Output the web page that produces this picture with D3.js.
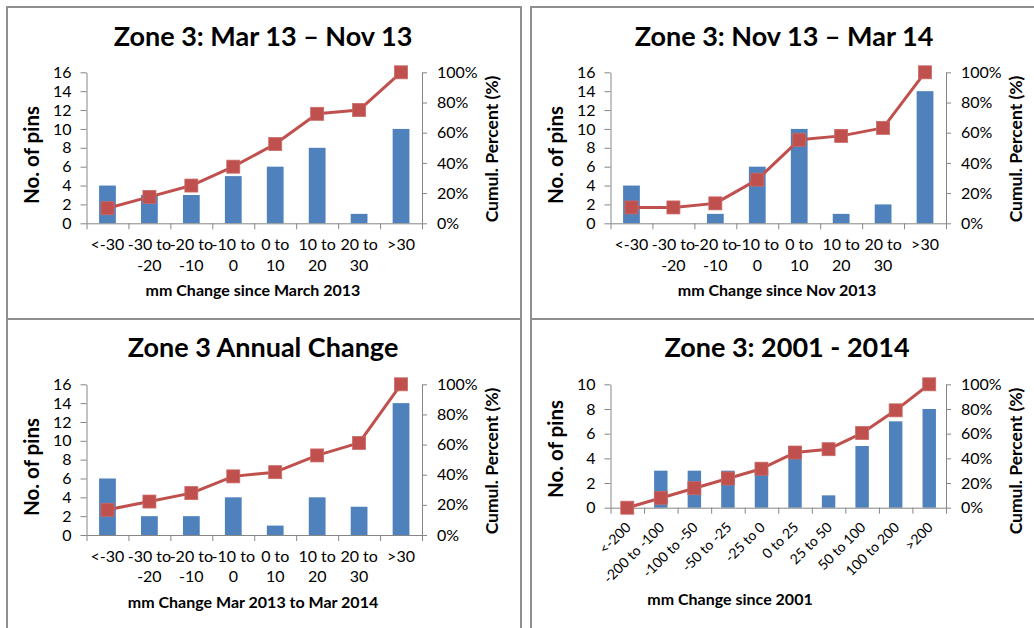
<!DOCTYPE html>
<html>
<head>
<meta charset="utf-8">
<script src="https://cdn.jsdelivr.net/npm/d3@7"></script>
<style>
  body { margin: 0; background: #fff; }
  svg { display: block; }
  text { font-family: Lato, "Open Sans", sans-serif; fill: #000; }
</style>
</head>
<body>
<svg id="chart" width="1034" height="628"></svg>
<script>
// ---- Category labels ----
const rangeCategories = ["<-30", "-30 to -20", "-20 to -10", "-10 to 0", "0 to 10", "10 to 20", "20 to 30", ">30"];
const longTermCategories = ["<-200", "-200 to -100", "-100 to -50", "-50 to -25", "-25 to 0", "0 to 25", "25 to 50", "50 to 100", "100 to 200", ">200"];

// ---- Pin counts (bars) and cumulative percent (line) ----
const pinsMar13Nov13 = [4, 3, 3, 5, 6, 8, 1, 10];
const cumulMar13Nov13 = [10, 17.5, 25, 37.5, 52.5, 72.5, 75, 100];

const pinsNov13Mar14 = [4, 0, 1, 6, 10, 1, 2, 14];
const cumulNov13Mar14 = [10.5, 10.5, 13.2, 28.9, 55.3, 57.9, 63.2, 100];

const pinsAnnual = [6, 2, 2, 4, 1, 4, 3, 14];
const cumulAnnual = [16.7, 22.2, 27.8, 38.9, 41.7, 52.8, 61.1, 100];

const pins2001to2014 = [0, 3, 3, 3, 3, 5, 1, 5, 7, 8];
const cumul2001to2014 = [0, 7.9, 15.8, 23.7, 31.6, 44.7, 47.4, 60.5, 78.9, 100];

// ---- Axis ticks ----
const countTicks16 = [0, 2, 4, 6, 8, 10, 12, 14, 16];
const countTicks10 = [0, 2, 4, 6, 8, 10];
const percentTicks = [0, 20, 40, 60, 80, 100];

// ---- Titles ----
const chartTitles = ["Zone 3: Mar 13 \u2013 Nov 13", "Zone 3: Nov 13 \u2013 Mar 14", "Zone 3 Annual Change", "Zone 3: 2001 - 2014"];
const xAxisTitles = ["mm Change since March 2013", "mm Change since Nov 2013", "mm Change Mar 2013 to Mar 2014", "mm Change since 2001"];
const yAxisTitle = "No. of pins";
const y2AxisTitle = "Cumul. Percent (%)";

const BAR = "#4F81BD", LINE = "#C0504D", AXIS = "#868686", FRAME = "#8f8f8f";

const svg = d3.select("#chart");

function drawPanel(opt) {
  const g = svg.append("g").attr("transform", `translate(${opt.x},${opt.y})`);

  // panel frame
  g.append("rect")
    .attr("x", 0).attr("y", 0).attr("width", opt.w).attr("height", opt.h)
    .attr("fill", "#fff").attr("stroke", FRAME).attr("stroke-width", 2);

  const left = opt.left, right = opt.right, top = opt.top, bottom = opt.bottom;
  const n = opt.categories.length;

  const x = d3.scaleBand().domain(d3.range(n)).range([left, right]).paddingInner(0).paddingOuter(0);
  const xEdge = d3.scaleLinear().domain([0, n]).range([left, right]);
  const yMax = d3.max(opt.countTicks);
  const y = d3.scaleLinear().domain([0, yMax]).range([bottom, top]);
  const y2 = d3.scaleLinear().domain([0, 100]).range([bottom, top]);

  // title
  g.append("text")
    .attr("x", opt.titleX).attr("y", opt.titleY)
    .attr("text-anchor", "middle")
    .style("font-size", "27px").style("font-weight", "bold")
    .text(opt.title);

  // bars
  const bw = x.bandwidth() * 0.4;
  g.append("g").selectAll("rect")
    .data(opt.pins)
    .join("rect")
    .attr("x", (d, i) => x(i) + (x.bandwidth() - bw) / 2)
    .attr("y", d => y(d))
    .attr("width", bw)
    .attr("height", d => bottom - y(d))
    .attr("fill", BAR);

  // left axis
  const yAxis = g.append("g")
    .attr("transform", `translate(${left},0)`)
    .call(d3.axisLeft(y).tickValues(opt.countTicks).tickSize(6).tickSizeOuter(0).tickPadding(9));
  // right axis
  const y2Axis = g.append("g")
    .attr("transform", `translate(${right},0)`)
    .call(d3.axisRight(y2).tickValues(percentTicks).tickFormat(d => d + "%").tickSize(5).tickSizeOuter(0).tickPadding(10));
  // category axis: tick marks between categories
  const xAxis = g.append("g")
    .attr("transform", `translate(0,${bottom})`)
    .call(d3.axisBottom(xEdge).tickValues(d3.range(n + 1)).tickFormat("").tickSize(6).tickSizeOuter(0));

  [yAxis, y2Axis, xAxis].forEach(a => {
    a.select(".domain").attr("stroke", AXIS).attr("stroke-width", 1);
    a.selectAll(".tick line").attr("stroke", AXIS);
    a.selectAll(".tick text").style("font-size", "16px").style("font-family", "Lato, sans-serif").attr("fill", "#000");
  });

  // category labels
  const lab = g.append("g");
  if (opt.rotate) {
    lab.selectAll("text")
      .data(opt.categories)
      .join("text")
      .attr("transform", (d, i) => `translate(${x(i) + x.bandwidth() / 2 + opt.rotDx},${bottom + opt.rotDy}) rotate(-45)`)
      .attr("text-anchor", "end")
      .attr("dy", "0.35em")
      .style("font-size", "14px")
      .text(d => d);
  } else {
    lab.selectAll("text")
      .data(opt.categories)
      .join("text")
      .attr("x", (d, i) => x(i) + x.bandwidth() / 2)
      .attr("y", bottom + opt.labelDy)
      .attr("text-anchor", "middle")
      .style("font-size", "16px")
      .each(function (d) {
        const parts = d.includes(" to ") ? [d.split(" to ")[0] + " to", d.split(" to ")[1]] : [d];
        const cx = d3.select(this).attr("x");
        d3.select(this).selectAll("tspan")
          .data(parts)
          .join("tspan")
          .attr("x", cx)
          .attr("dy", (p, k) => k === 0 ? 0 : 20.5)
          .text(p => p);
      });
  }

  // x-axis title
  g.append("text")
    .attr("x", opt.xTitleX).attr("y", opt.xTitleY)
    .attr("text-anchor", "middle")
    .style("font-size", "16px").style("font-weight", "bold")
    .text(opt.xTitle);

  // left axis title
  g.append("text")
    .attr("transform", `translate(${opt.yTitleX},${opt.yTitleY}) rotate(-90)`)
    .attr("text-anchor", "middle")
    .style("font-size", "20.5px").style("font-weight", "bold")
    .text(yAxisTitle);

  // right axis title
  g.append("text")
    .attr("transform", `translate(${opt.y2TitleX},${opt.y2TitleY}) rotate(-90)`)
    .attr("text-anchor", "middle")
    .style("font-size", "17.5px").style("font-weight", "bold")
    .text(y2AxisTitle);

  // cumulative line with square markers
  const line = d3.line()
    .x((d, i) => x(i) + x.bandwidth() / 2)
    .y(d => y2(d));
  g.append("path")
    .datum(opt.cumul)
    .attr("d", line)
    .attr("fill", "none")
    .attr("stroke", LINE)
    .attr("stroke-width", 3)
    .attr("stroke-linejoin", "round");
  const ms = 13;
  g.append("g").selectAll("rect")
    .data(opt.cumul)
    .join("rect")
    .attr("x", (d, i) => x(i) + x.bandwidth() / 2 - ms / 2)
    .attr("y", d => y2(d) - ms / 2)
    .attr("width", ms).attr("height", ms)
    .attr("fill", LINE)
    .attr("stroke", "#c96a67").attr("stroke-width", 0.8);
}

const common = { w: 514, h: 312, left: 79.5, right: 415, top: 65.3, titleX: 256, titleY: 38.5,
  xTitleX: 246, xTitleY: 289, yTitleX: 32, yTitleY: 148, y2TitleX: 491, y2TitleY: 142, labelDy: 26.7 };

drawPanel(Object.assign({}, common, {
  x: 7, y: 7, bottom: 216.3, categories: rangeCategories, pins: pinsMar13Nov13, cumul: cumulMar13Nov13,
  countTicks: countTicks16, title: chartTitles[0], xTitle: xAxisTitles[0]
}));
drawPanel(Object.assign({}, common, {
  x: 531, y: 7, w: 520, bottom: 216.3, categories: rangeCategories, pins: pinsNov13Mar14, cumul: cumulNov13Mar14,
  countTicks: countTicks16, title: chartTitles[1], xTitle: xAxisTitles[1], titleX: 253
}));
drawPanel(Object.assign({}, common, {
  x: 7, y: 319, h: 330, bottom: 216, categories: rangeCategories, pins: pinsAnnual, cumul: cumulAnnual,
  countTicks: countTicks16, title: chartTitles[2], xTitle: xAxisTitles[2], titleY: 38
}));
drawPanel(Object.assign({}, common, {
  x: 531, y: 319, w: 520, h: 330, bottom: 188.7, categories: longTermCategories, pins: pins2001to2014, cumul: cumul2001to2014,
  countTicks: countTicks10, title: chartTitles[3], xTitle: xAxisTitles[3], rotate: true, rotDx: 1, rotDy: 17,
  xTitleX: 199, xTitleY: 286, yTitleY: 130, titleY: 37.5
}));
</script>
</body>
</html>
